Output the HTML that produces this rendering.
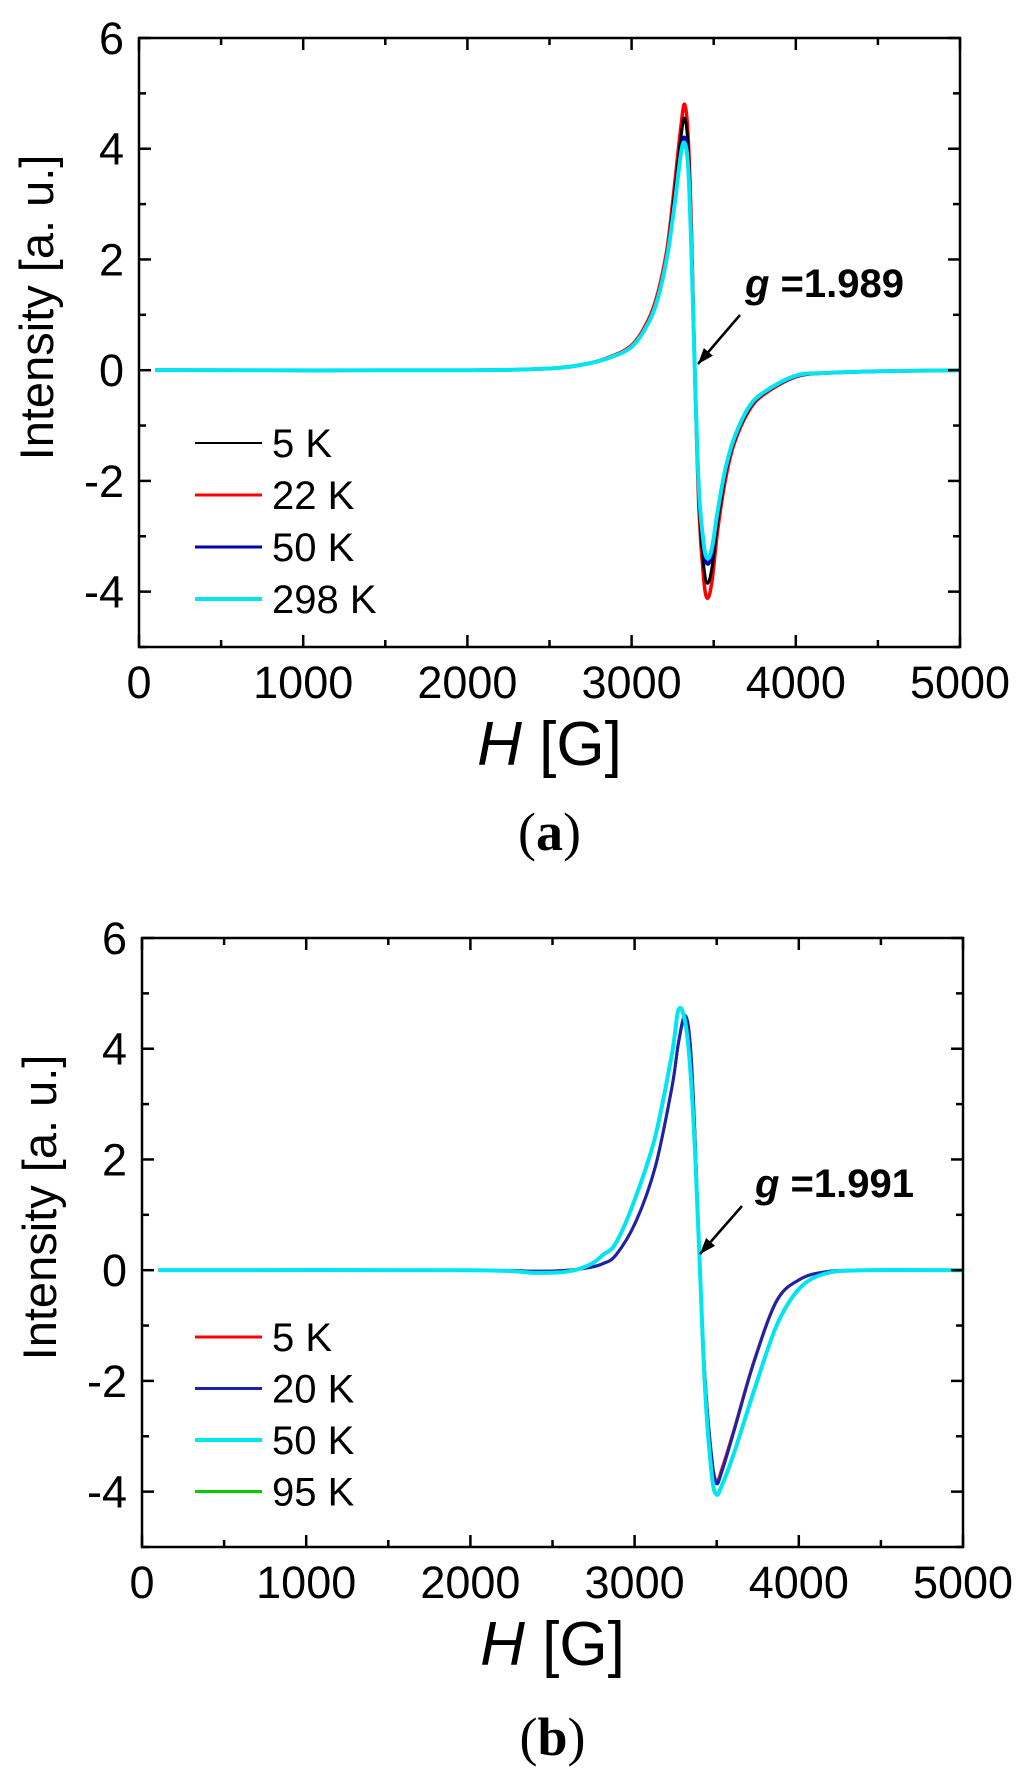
<!DOCTYPE html>
<html><head><meta charset="utf-8"><style>
body{margin:0;background:#fff}
svg{display:block}
text{font-family:"Liberation Sans",sans-serif}
</style></head><body>
<svg id="fig" width="1024" height="1788" viewBox="0 0 1024 1788"></svg>
<script>
// ---- data: panel (a) ----
const hA_5K=[100,2000,2500,2700,2850,3000,3100,3160,3216,3260,3300,3323,3345,3365,3385,3410,3440,3463,3490,3524,3570,3622,3707,3800,4000,4200,4500,5000];
const vA_22K=[0,0,0.03,0.1,0.22,0.45,0.9,1.4,2.2,3.3,4.4,4.8,4.2,2.5,0,-2.5,-3.8,-4.12,-3.8,-2.9,-2.0,-1.35,-0.77,-0.45,-0.12,-0.05,-0.02,0];
const vA_5K=[0,0,0.03,0.1,0.21,0.43,0.86,1.33,2.1,3.15,4.2,4.55,4.0,2.4,0,-2.35,-3.55,-3.85,-3.55,-2.75,-1.9,-1.3,-0.74,-0.43,-0.11,-0.05,-0.02,0];
const vA_50K=[0,0,0.03,0.1,0.21,0.42,0.84,1.3,2.05,3.0,3.95,4.2,3.75,2.2,0,-2.2,-3.25,-3.5,-3.3,-2.6,-1.85,-1.27,-0.72,-0.42,-0.11,-0.05,-0.02,0];
const vA_298K=[0,0,0.03,0.1,0.21,0.42,0.84,1.3,2.05,2.95,3.9,4.1,3.65,2.1,0,-2.15,-3.15,-3.4,-3.2,-2.55,-1.8,-1.25,-0.7,-0.41,-0.1,-0.05,-0.02,0];
// ---- data: panel (b) ----
const hB=[100,2000,2400,2600,2729,2809,2888,3008,3127,3227,3267,3307,3340,3370,3398,3430,3470,3498,3530,3606,3725,3865,4004,4163,4400,5000];
const vB_5K=[0,0,-0.02,0,0.05,0.12,0.28,0.88,1.88,3.3,4.1,4.55,4.0,2.2,0,-2.0,-3.4,-3.81,-3.6,-2.87,-1.66,-0.55,-0.17,-0.03,0,0];
const vB_20K=[0,0,-0.02,0,0.05,0.12,0.28,0.88,1.88,3.3,4.1,4.6,4.05,2.25,0,-2.0,-3.4,-3.85,-3.65,-2.9,-1.68,-0.56,-0.17,-0.03,0,0];
const vB_95K=vB_20K.slice();
const vB_50K=[0,0,-0.05,-0.02,0.1,0.28,0.5,1.33,2.43,3.9,4.7,4.5,3.6,2.0,0,-2.2,-3.7,-4.05,-3.9,-3.3,-2.2,-1.0,-0.33,-0.06,0,0];
const xTicks=[0,1000,2000,3000,4000,5000];
const yTicks=[6,4,2,0,-2,-4];

const NS="http://www.w3.org/2000/svg";
const svg=document.getElementById('fig');
function mk(tag,attrs,parent){const e=document.createElementNS(NS,tag);for(const k in attrs)e.setAttribute(k,attrs[k]);(parent||svg).appendChild(e);return e;}
function smooth(pts){let d=`M${pts[0][0]},${pts[0][1]}`;for(let i=0;i<pts.length-1;i++){const p0=pts[Math.max(0,i-1)],p1=pts[i],p2=pts[i+1],p3=pts[Math.min(pts.length-1,i+2)];
 const c1=[p1[0]+(p2[0]-p0[0])/6,p1[1]+(p2[1]-p0[1])/6],c2=[p2[0]-(p3[0]-p1[0])/6,p2[1]-(p3[1]-p1[1])/6];
 d+=` C${c1[0].toFixed(1)},${c1[1].toFixed(1)} ${c2[0].toFixed(1)},${c2[1].toFixed(1)} ${p2[0].toFixed(1)},${p2[1].toFixed(1)}`;}return d;}

function panel(P){
 const g=mk('g',{});
 
 
 const X=h=>P.L+(h/5000)*(P.R-P.L), Y=v=>P.T+(6-v)/11*(P.B-P.T);
 P.series.forEach(s=>{const pts=P.h.map((h,i)=>[X(h),Y(s.v[i])]);
  const p=mk('path',{d:smooth(pts),fill:'none',stroke:s.c,'stroke-width':s.w,'stroke-linejoin':'round'},g);
  
  });
 const f=mk('rect',{x:P.L,y:P.T,width:P.R-P.L,height:P.B-P.T,fill:'none',stroke:'#000','stroke-width':2.5},g);
 
 
 for(let h=0;h<=5000;h+=500){const major=h%1000===0,len=major?12:7,x=X(h);
  mk('line',{x1:x,y1:P.B,x2:x,y2:P.B-len,stroke:'#000','stroke-width':2.5},g);
  mk('line',{x1:x,y1:P.T,x2:x,y2:P.T+len,stroke:'#000','stroke-width':2.5},g);}
 xTicks.forEach(h=>{const t=mk('text',{x:X(h),y:P.B+51,'font-size':45,'text-anchor':'middle'},g);t.textContent=h;
  
  });
 for(let v=-5;v<=6;v++){const major=v%2===0,len=major?12:7,y=Y(v);
  mk('line',{x1:P.L,y1:y,x2:P.L+len,y2:y,stroke:'#000','stroke-width':2.5},g);
  mk('line',{x1:P.R,y1:y,x2:P.R-len,y2:y,stroke:'#000','stroke-width':2.5},g);}
 yTicks.forEach(v=>{const t=mk('text',{x:P.L-15,y:Y(v)+16,'font-size':45,'text-anchor':'end'},g);t.textContent=v;
  
  });
 const yt=mk('text',{x:0,y:0,'font-size':47,'text-anchor':'middle',transform:`translate(${P.L-86},${(P.T+P.B)/2-35}) rotate(-90)`},g);
 yt.textContent='Intensity [a. u.]';
 
 
 const xt=mk('text',{x:(P.L+P.R)/2,y:P.B+118,'font-size':62,'text-anchor':'middle'},g);
 xt.innerHTML='<tspan font-style="italic">H</tspan> [G]';
 
 
 P.series.slice().sort((a,b)=>a.order-b.order).forEach((s,i)=>{const y=P.legY+i*P.legDy;
  const lg=mk('g',{},g);
  
  
  mk('line',{x1:195,y1:y,x2:262,y2:y,stroke:s.c,'stroke-width':s.lw},lg);
  const t=mk('text',{x:272,y:y+14,'font-size':40},lg);t.textContent=s.label;});
 const a=mk('text',{x:P.gx,y:P.gy,'font-size':40,'font-weight':'bold'},g);
 a.innerHTML='<tspan font-style="italic">g</tspan> =1.'+P.gval;
 
 
 const [x1,y1,x2,y2]=P.arrow;
 const ar=mk('g',{},g);
 
 
 mk('line',{x1,y1,x2,y2,stroke:'#000','stroke-width':2.5},ar);
 const ang=Math.atan2(y2-y1,x2-x1),L=16,W=6;
 const bx=x2-L*Math.cos(ang),by=y2-L*Math.sin(ang);
 mk('polygon',{points:`${x2},${y2} ${bx-W*Math.sin(ang)},${by+W*Math.cos(ang)} ${bx+W*Math.sin(ang)},${by-W*Math.cos(ang)}`,fill:'#000'},ar);
 const c=mk('text',{x:(P.L+P.R)/2,y:P.capY,'font-size':54,'text-anchor':'middle',style:'font-family:"Liberation Serif",serif'},g);
 c.innerHTML='(<tspan font-weight="bold">'+P.cap+'</tspan>)';
 
 
}

panel({name:'panel-a',L:139,R:960,T:38,B:647,h:hA_5K,
 series:[{label:'22 K',v:vA_22K,c:'#ff0000',w:3.5,lw:3,order:1},
  {label:'5 K',v:vA_5K,c:'#000000',w:3,lw:2,order:0},
  {label:'50 K',v:vA_50K,c:'#0000b0',w:3.5,lw:3,order:2},
  {label:'298 K',v:vA_298K,c:'#00e5f0',w:4,lw:4,order:3}],
 legY:443,legDy:52,gx:745,gy:297,gval:'989',arrow:[740,315,698,364],capY:850,cap:'a'});

panel({name:'panel-b',L:142,R:963,T:938,B:1547,h:hB,
 series:[{label:'5 K',v:vB_5K,c:'#ff0000',w:3,lw:3,order:0},
  {label:'95 K',v:vB_95K,c:'#00cc00',w:3,lw:3,order:3},
  {label:'20 K',v:vB_20K,c:'#2020b0',w:3,lw:3,order:1},
  {label:'50 K',v:vB_50K,c:'#00e5f0',w:4,lw:4,order:2}],
 legY:1337,legDy:51.5,gx:755,gy:1197,gval:'991',arrow:[742,1206,700,1254],capY:1755,cap:'b'});
</script>
</body></html>
